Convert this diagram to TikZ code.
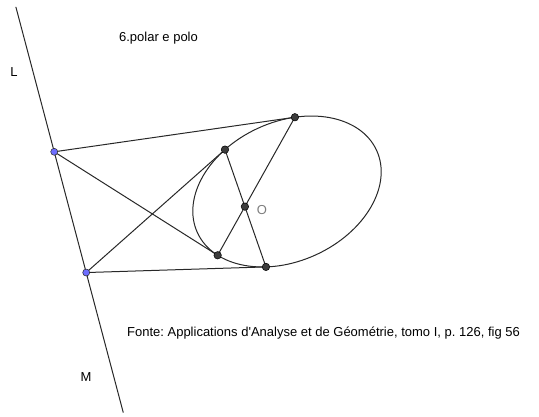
\documentclass[tikz,border=0pt]{standalone}
\usepackage{fontspec}
\setmainfont{Liberation Sans}
\usepackage{tikz}
\usetikzlibrary{calc}
\definecolor{GGlinea}{RGB}{40,40,40}
\definecolor{GGazul} {RGB}{110,110,255}
\definecolor{GGpunto}{RGB}{60,60,60}
\definecolor{GGgris} {RGB}{125,125,125}
\tikzset{
  linea/.style={GGlinea,line width=1pt},
  ptoazul/.style={circle,fill=GGazul,draw=GGlinea,line width=0.5pt,inner sep=0pt,minimum size=7pt},
  ptonegro/.style={circle,fill=GGpunto,draw=black,line width=0.5pt,inner sep=0pt,minimum size=7.5pt}
}
\frenchspacing

\begin{document}
\begin{tikzpicture}[x=1pt,y=1pt,font=\fontsize{13}{15}\selectfont]
\useasboundingbox (0,0) rectangle (539,416);
% conica y puntos de contacto
\begin{scope}[shift={(287,224.5)},rotate=24.7]
\draw[linea] (0,0) ellipse [x radius=98.6,y radius=69.6];
\foreach \nom/\t in {T1/67.2,T2/239.1,A/113.2,B/204.6}
  {\coordinate (\nom) at ({98.6*cos(\t)},{69.6*sin(\t)});
   \coordinate (\nom t) at ({98.6*cos(\t)-98.6*sin(\t)},{69.6*sin(\t)+69.6*cos(\t)});}
\end{scope}
\coordinate (L) at (intersection of T1--T1t and B--Bt);
\coordinate (M) at (intersection of T2--T2t and A--At);
\coordinate (P) at (intersection of T1--B and A--T2);
\coordinate (Lsup) at ($(L)!-1.2!(M)$);
\coordinate (Minf) at ($(L)!2.16!(M)$);
% recta LM, tangentes y cuerdas
\draw[linea] (Lsup) -- (Minf);
\draw[linea] (L) -- (T1);
\draw[linea] (L) -- (B);
\draw[linea] (M) -- (T2);
\draw[linea] (M) -- (A);
\draw[linea] (T1) -- (B);
\draw[linea] (A) -- (T2);
\foreach \p in {T1,T2,A,B,P} \node[ptonegro] (n\p) at (\p) {};
\node[ptoazul] (nL) at (L) {};
\node[ptoazul] (nM) at (M) {};
% textos
\node (rotL) at (14,344) {L};
\node (rotM) at (86,39) {M};
\node[GGgris] (rotO) at (262,206) {O};
\node (titulo) at (158.5,378) {6.polar e polo};
\node (fonte) at (323.5,82.7) {Fonte: Applications d\textquotesingle Analyse et de Géométrie, tomo I, p. 126, fig 56};
\end{tikzpicture}
\end{document}
